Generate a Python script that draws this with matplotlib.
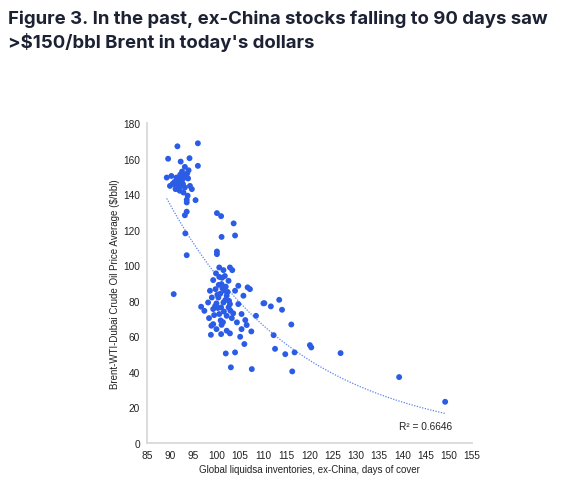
import numpy as np
import matplotlib.pyplot as plt

# days of cover (x) and price in today's dollars (y)
days = [
    91.6, 96.0, 89.6, 92.3, 94.2, 96.0, 93.2, 92.6, 93.7, 89.3,
    90.3, 91.4, 93.9, 92.6, 90.0, 90.9, 91.8, 92.8, 94.3, 91.2,
    92.1, 93.2, 94.7, 93.8, 93.6, 95.5, 93.6, 93.6, 93.2, 100.1,
    101.0, 103.7, 93.3, 101.1, 104.0, 100.1, 100.1, 93.6, 90.8,
    91.0, 91.9, 92.4, 93.0, 92.0, 91.5, 92.9, 90.6, 93.4, 92.2,
    91.7, 94.0,
    100.6, 101.5, 102.9, 103.4, 99.3, 100.6, 102.6, 101.1, 104.7, 106.7,
    98.6, 99.8, 101.7, 104.0, 105.8, 99.0, 100.4, 102.2, 110.1, 98.2,
    100.0, 101.5, 102.9, 104.7, 96.7, 97.4, 99.3, 101.0, 102.6, 105.4,
    108.5, 98.4, 100.6, 102.2, 103.3, 106.2, 99.3, 101.1, 104.4, 106.5,
    100.0, 102.2, 102.9, 105.4, 107.5, 98.8, 101.0, 105.1, 106.0, 102.0,
    104.0, 103.1, 107.6,
    100.8, 101.9, 101.3, 100.2, 99.7, 102.4, 101.6, 100.9, 99.5, 102.0,
    103.0, 101.2, 100.5, 99.9, 102.7, 101.4, 100.3, 103.6, 98.9, 101.8,
    107.2, 110.3, 111.7, 113.5, 114.1, 116.1, 112.3, 112.6, 114.8, 116.8,
    120.1, 120.4, 126.7, 116.3, 139.3, 149.2,
]
price = [
    167.0, 168.7, 160.0, 158.4, 160.3, 156.0, 155.4, 152.8, 151.7, 149.4,
    150.3, 149.4, 148.9, 147.9, 144.7, 145.7, 145.7, 145.7, 144.7, 142.9,
    142.0, 143.8, 142.9, 139.2, 136.9, 136.7, 135.4, 130.2, 128.2, 129.4,
    127.7, 123.6, 118.0, 116.0, 116.8, 107.8, 106.3, 105.7, 83.8,
    147.0, 146.5, 148.5, 150.5, 144.0, 147.5, 141.0, 146.0, 149.5, 151.0,
    143.0, 153.5,
    98.8, 97.3, 98.8, 97.3, 91.7, 93.5, 91.3, 89.4, 88.5, 87.6,
    85.7, 86.6, 85.7, 85.7, 82.9, 81.9, 81.9, 82.9, 78.6, 79.1,
    78.6, 79.1, 78.2, 78.2, 76.7, 74.4, 75.4, 76.3, 76.3, 72.6,
    71.6, 70.3, 72.6, 71.6, 70.3, 69.2, 66.9, 66.5, 67.9, 66.4,
    64.1, 63.2, 61.7, 64.1, 62.8, 60.9, 61.3, 59.8, 55.7, 50.4,
    51.0, 42.6, 41.6,
    84.0, 80.5, 87.0, 83.5, 77.0, 85.0, 74.0, 69.0, 72.0, 88.0,
    74.5, 93.0, 89.0, 95.5, 80.0, 68.0, 76.0, 73.0, 66.0, 94.0,
    86.6, 78.7, 76.9, 80.6, 75.0, 66.7, 60.7, 53.0, 50.0, 51.0,
    55.1, 53.8, 50.6, 40.3, 37.1, 23.2,
]
r2_text = "R\u00b2 = 0.6646"

x = np.array(days)
y = np.array(price)

fig = plt.figure(figsize=(5.8, 4.89), dpi=100)
ax = fig.add_axes([0.253, 0.092, 0.561, 0.654])

blue = '#2b5ce6'
ax.scatter(x, y, s=18, color=blue, edgecolors='none', zorder=3)

# exponential trendline (excel style: linear fit on ln y)
b, a = np.polyfit(x, np.log(y), 1)
xs = np.linspace(x.min(), x.max(), 200)
ax.plot(xs, np.exp(a + b * xs), linestyle=(0, (1, 1.2)), color='#5b84ee',
        linewidth=0.9, zorder=2)

ax.set_xlim(85, 155)
ax.set_ylim(0, 180)
ax.set_xticks(np.arange(85, 156, 5))
ax.set_yticks(np.arange(0, 181, 20))

lab_font = dict(family='Liberation Sans', size=7, color='#222222')
ax.tick_params(length=0, labelsize=7.3, labelcolor='#222222', pad=5)
for t in ax.get_xticklabels() + ax.get_yticklabels():
    t.set_family('Liberation Sans')

for side in ['top', 'right']:
    ax.spines[side].set_visible(False)
for side in ['left', 'bottom']:
    ax.spines[side].set_color('#d9d9d9')
    ax.spines[side].set_linewidth(1.3)

ax.set_xlabel("Global liquidsa inventories, ex-China, days of cover", labelpad=3, **lab_font)
ax.set_ylabel("Brent-WTI-Dubai Crude Oil Price Average ($/bbl)", labelpad=2, **lab_font)

ax.text(0.775, 0.045, r2_text, transform=ax.transAxes, fontsize=7.3,
        family='Liberation Sans', color='#222222')

fig.text(0.014, 0.978,
         "Figure 3. In the past, ex-China stocks falling to 90 days saw\n"
         ">$150/bbl Brent in today's dollars",
         ha='left', va='top', fontsize=13.4, fontweight='bold', family='Inter',
         color='#1c2233', linespacing=1.3)

fig.savefig('out.png', dpi=100)
